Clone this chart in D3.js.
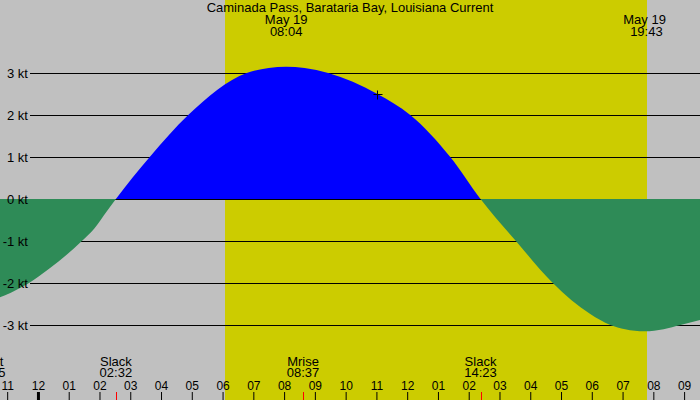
<!DOCTYPE html>
<html>
<head>
<meta charset="utf-8">
<script src="https://cdn.jsdelivr.net/npm/d3@7"></script>
<style>
body { margin: 0; }
svg { display: block; font-family: "Liberation Sans", Arial, sans-serif; font-size: 13px; }
</style>
</head>
<body>
<div class="tide-chart"></div>
<script>
"use strict";

const title = "Caminada Pass, Barataria Bay, Louisiana Current";

// tidal current, knots (flood +, ebb -)
const currentTimes = [
    "2024-05-18 22:30", "2024-05-18 22:56", "2024-05-18 23:41", "2024-05-19 00:23",
    "2024-05-19 00:56", "2024-05-19 01:24", "2024-05-19 01:50", "2024-05-19 02:14",
    "2024-05-19 02:32", "2024-05-19 03:38", "2024-05-19 04:53", "2024-05-19 06:47",
    "2024-05-19 07:30", "2024-05-19 08:04", "2024-05-19 08:40", "2024-05-19 09:26",
    "2024-05-19 11:02", "2024-05-19 12:06", "2024-05-19 13:24", "2024-05-19 14:23",
    "2024-05-19 15:32", "2024-05-19 16:44", "2024-05-19 17:57", "2024-05-19 18:36",
    "2024-05-19 19:05", "2024-05-19 19:43", "2024-05-19 20:20", "2024-05-19 20:53",
    "2024-05-19 21:31", "2024-05-19 22:00"
];
const currentKnots = [
    -2.42, -2.29, -2.01, -1.65,
    -1.33, -1.02, -0.70, -0.30,
    0, 1.00, 2.00, 3.00,
    3.12, 3.15, 3.12, 3.00,
    2.50, 2.00, 1.00, 0,
    -1.00, -2.00, -2.74, -3.00,
    -3.10, -3.15, -3.10, -3.00,
    -2.88, -2.77
];

const peakTimes = ["2024-05-19 08:04", "2024-05-19 19:43"];
const peakDates = ["May 19", "May 19"];
const peakLabels = ["08:04", " 19:43"];

const eventTimes = ["2024-05-18 22:25", "2024-05-19 02:32", "2024-05-19 08:37", "2024-05-19 14:23"];
const eventNames = ["Mset", "Slack", "Mrise", "Slack"];
const eventLabels = ["22:25", "02:32", "08:37", "14:23"];

const daylight = ["2024-05-19 06:05", "2024-05-19 19:48"];
const viewRange = ["2024-05-18 22:46", "2024-05-19 21:31"];
const knotTicks = [3, 2, 1, 0, -1, -2, -3];

const markerTime = "2024-05-19 11:02";
const markerKnots = 2.5;

const parse = d3.timeParse("%Y-%m-%d %H:%M");

class CurrentChart {
    constructor (selector) {
        this.width = 700;
        this.height = 400;

        this.svg = d3.select(selector).append("svg")
            .attr("width", this.width)
            .attr("height", this.height);

        this.x = d3.scaleTime().domain(viewRange.map(parse)).range([0, this.width]);
        this.y = d3.scaleLinear().domain([-3, 3]).range([325, 73]);

        this.data = currentTimes.map((t, i) => ({ t: parse(t), v: currentKnots[i] }));
    }

    drawBackground () {
        const svg = this.svg;
        svg.append("rect")
            .attr("width", this.width).attr("height", this.height)
            .attr("fill", "#c0c0c0");

        const [rise, set] = daylight.map(parse);
        svg.append("rect")
            .attr("x", Math.round(this.x(rise)))
            .attr("width", Math.round(this.x(set)) - Math.round(this.x(rise)))
            .attr("height", this.height)
            .attr("fill", "#cccc00");
    }

    drawGrid () {
        this.svg.append("g").selectAll("line").data(knotTicks).join("line")
            .attr("x1", 30).attr("x2", this.width)
            .attr("y1", d => Math.round(this.y(d)) + 0.5)
            .attr("y2", d => Math.round(this.y(d)) + 0.5)
            .attr("stroke", "#000");
    }

    drawGridLabels () {
        // labels sit on top of the fill
        this.svg.append("g").selectAll("text").data(knotTicks).join("text")
            .attr("x", 28)
            .attr("y", d => this.y(d) + 4.5)
            .attr("text-anchor", "end")
            .text(d => d + " kt");
    }

    drawCurrent () {
        const zero = Math.round(this.y(0));
        const defs = this.svg.append("defs");
        defs.append("clipPath").attr("id", "flood")
            .append("rect").attr("width", this.width).attr("height", zero);
        defs.append("clipPath").attr("id", "ebb")
            .append("rect").attr("y", zero).attr("width", this.width).attr("height", this.height - zero);

        const area = d3.area()
            .curve(d3.curveMonotoneX)
            .x(d => this.x(d.t))
            .y0(this.y(0))
            .y1(d => this.y(d.v));

        this.svg.append("path")
            .attr("clip-path", "url(#flood)")
            .attr("fill", "#0000ff")
            .attr("d", area(this.data));

        this.svg.append("path")
            .attr("clip-path", "url(#ebb)")
            .attr("fill", "#2e8b57")
            .attr("d", area(this.data));

        // cross marker
        this.svg.append("path")
            .attr("transform", `translate(${Math.round(this.x(parse(markerTime))) + 0.5},${Math.round(this.y(markerKnots)) + 0.5})`)
            .attr("d", "M-4,0H5M0,-4V5")
            .attr("stroke", "#000")
            .attr("fill", "none");
    }

    drawLabels () {
        const svg = this.svg;
        svg.append("text")
            .attr("x", this.width / 2).attr("y", 12)
            .attr("text-anchor", "middle")
            .text(title);

        const peaks = svg.append("g").selectAll("text")
            .data(peakTimes).join("text")
            .attr("text-anchor", "middle")
            .attr("x", d => this.x(parse(d)));
        peaks.append("tspan").attr("y", 24).text((d, i) => peakDates[i]);
        peaks.append("tspan").attr("y", 36)
            .attr("x", d => this.x(parse(d)))
            .attr("xml:space", "preserve")
            .text((d, i) => peakLabels[i]);

        const events = svg.append("g").selectAll("text")
            .data(eventTimes).join("text")
            .attr("text-anchor", "middle")
            .attr("x", d => this.x(parse(d)));
        events.append("tspan").attr("y", 366).text((d, i) => eventNames[i]);
        events.append("tspan").attr("y", 377)
            .attr("x", d => this.x(parse(d)))
            .text((d, i) => eventLabels[i]);
    }

    drawAxis () {
        const axis = d3.axisTop(this.x)
            .ticks(d3.timeHour.every(1))
            .tickSize(8)
            .tickPadding(2)
            .tickFormat(d3.timeFormat("%I"));

        const g = this.svg.append("g")
            .attr("transform", `translate(0,${this.height})`)
            .call(axis);
        g.select(".domain").remove();
        g.selectAll("text").attr("font-size", 12).attr("font-family", null);
        g.selectAll(".tick line")
            .attr("stroke-width", d => d.getHours() === 0 ? 3 : 1);

        this.svg.append("g").selectAll("line")
            .data(eventTimes).join("line")
            .attr("x1", d => Math.round(this.x(parse(d))) + 0.5)
            .attr("x2", d => Math.round(this.x(parse(d))) + 0.5)
            .attr("y1", 392).attr("y2", this.height)
            .attr("stroke", "#ff0000");
    }

    draw () {
        this.drawBackground();
        this.drawGrid();
        this.drawCurrent();
        this.drawGridLabels();
        this.drawLabels();
        this.drawAxis();
    }
}

const chart = new CurrentChart(".tide-chart");
chart.draw();
</script>
</body>
</html>
